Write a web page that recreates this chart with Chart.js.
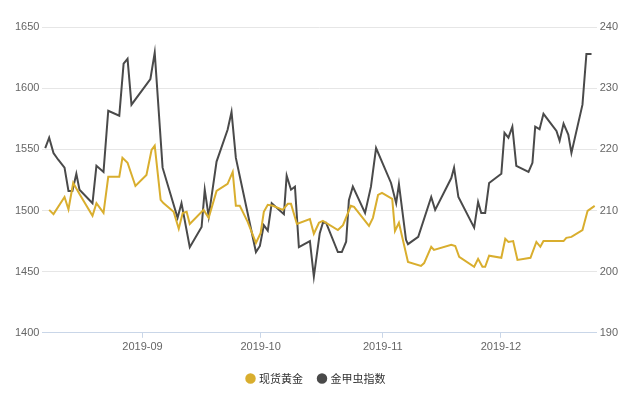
<!DOCTYPE html><html><head><meta charset="utf-8">
<script src="https://cdn.jsdelivr.net/npm/chart.js@4/dist/chart.umd.min.js"></script>
<style>body{margin:0;background:#fff}#w{width:640px;height:400px}</style></head><body><div id="w"><canvas id="c"></canvas></div>
<script>
// x = days since 2019-08-01
const goldX=[7.3,8.4,11.2,12.2,13.4,15.0,18.3,19.3,21.1,22.3,25.1,25.9,27.2,29.2,32.0,33.3,34.1,35.6,36.3,38.9,40.2,41.2,42.2,43.0,46.5,47.8,49.8,52.6,53.9,54.7,55.7,57.7,59.8,61.0,61.8,62.8,64.1,66.6,67.9,68.7,70.2,73.5,74.5,75.8,76.8,80.6,81.9,83.9,84.7,88.5,89.5,90.8,91.8,94.4,95.1,96.1,98.4,101.7,102.5,104.3,105.0,109.4,110.4,111.4,115.2,116.2,117.3,118.0,119.0,122.1,123.1,123.9,125.1,126.2,129.5,131.0,132.0,132.8,137.9,138.6,139.9,142.7,144.0,145.8];
const goldY=[1500.5,1497,1511,1501,1522.5,1513.5,1495.6,1506,1498,1527.5,1527.5,1543,1539,1520,1529,1549.5,1553,1508.7,1506,1499,1485,1498,1499,1489,1500.5,1494,1516,1521.7,1531.5,1503.8,1503.8,1490.7,1473.5,1481.7,1498.9,1504.6,1503.8,1500.5,1505.4,1505.4,1489,1493,1481,1490,1491.5,1484,1488,1503.8,1503,1487.4,1494,1512.7,1514.4,1509.5,1483.3,1490,1458,1454.7,1457,1470.3,1467.8,1472,1471,1462,1454,1460.5,1454,1454,1463,1461.3,1476.8,1474.3,1475,1459.6,1461.3,1474.3,1470.3,1475,1475,1477.6,1478.4,1484,1499.7,1503.8];
const bugX=[6.3,7.3,8.4,9.6,11.2,12.2,13.2,14.2,15.0,18.3,19.3,21.1,22.3,25.1,26.2,27.2,28.2,33.0,34.1,36.1,39.9,40.9,43.0,46.0,46.8,47.8,49.8,52.6,53.6,54.7,59.8,60.8,61.8,62.8,63.8,66.9,67.6,68.7,69.7,70.7,73.5,74.5,76.0,76.8,77.6,80.6,81.6,82.7,83.4,84.4,87.5,89.0,90.3,94.1,95.4,96.1,97.9,98.4,101.0,104.3,105.3,109.4,110.1,111.2,115.2,116.2,117.0,118.0,119.0,122.1,122.9,123.9,124.9,125.9,129.0,130.0,130.7,131.8,132.8,136.1,136.9,137.9,139.1,139.9,142.7,143.7,145.0];
const bugY=[220.2,221.9,219.4,218.3,217,213.2,213.2,216,213.4,211.2,217.3,216.3,226.3,225.5,234,234.8,227.3,231.5,235.8,217,208.8,211.2,204,207.3,213.4,209,218,223.2,226.1,218.6,203.2,204.2,207.6,206.7,211.2,209.4,215.7,213.4,213.9,204,205,199.2,206.3,208,208,203.2,203.2,204.9,211.7,213.9,209.6,213.9,220.2,214.5,211.2,214.3,205.2,204.5,205.7,212.2,210.1,215.3,217,212.2,207.2,211.4,209.6,209.6,214.5,216,222.7,221.9,223.7,217.3,216.3,217.8,223.7,223.3,225.8,223,221.4,224.2,222.4,219.4,227.3,235.6,235.6];
const tickX=[31,61,92,122];
const tickLabels=['2019-09','2019-10','2019-11','2019-12'];
const zip=(a,b)=>a.map((x,i)=>({x,y:b[i]}));
new Chart(document.getElementById('c'),{type:'line',
data:{datasets:[
{label:'现货黄金',data:zip(goldX,goldY),borderColor:'#d9ae2e',backgroundColor:'#d9ae2e',borderWidth:2,pointRadius:0,yAxisID:'y',tension:0},
{label:'金甲虫指数',data:zip(bugX,bugY),borderColor:'#4a4a4a',backgroundColor:'#4a4a4a',borderWidth:2,pointRadius:0,yAxisID:'y1',tension:0}]},
options:{responsive:true,maintainAspectRatio:false,animation:false,
layout:{padding:{top:27,left:12,right:19,bottom:6}},
plugins:{legend:{position:'bottom',labels:{usePointStyle:true,pointStyle:'circle',boxWidth:6,boxHeight:6,color:'#333',font:{size:11,family:'Noto Sans CJK SC'},padding:16}},tooltip:{enabled:false}},
scales:{
x:{type:'linear',min:5.6,max:146.3,afterBuildTicks:a=>{a.ticks=tickX.map(v=>({value:v}))},
ticks:{callback:v=>tickLabels[tickX.indexOf(v)]||'',color:'#666',font:{size:11},maxRotation:0,autoSkip:false},
grid:{display:true,drawOnChartArea:false,color:'#c9d6e8',tickLength:5},border:{color:'#c9d6e8'}},
y:{position:'left',min:1400,max:1650,ticks:{stepSize:50,color:'#666',font:{size:11},callback:v=>v},grid:{color:'#e6e6e6',tickLength:0},border:{display:false}},
y1:{position:'right',min:190,max:240,ticks:{stepSize:10,color:'#666',font:{size:11},callback:v=>v},grid:{drawOnChartArea:false,tickLength:0},border:{display:false}}
}}});
</script></body></html>
